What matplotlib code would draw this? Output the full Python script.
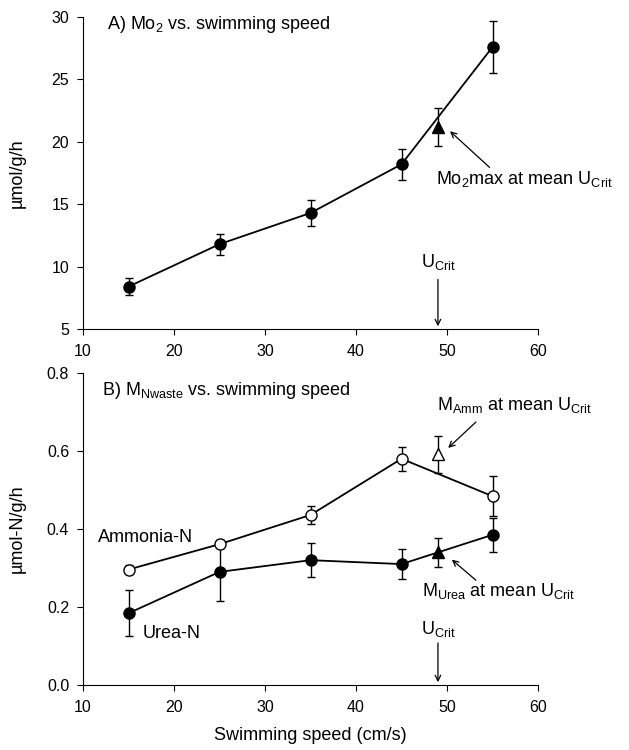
import numpy as np
import matplotlib
matplotlib.use('Agg')
import matplotlib.pyplot as plt

plt.rcParams['font.family'] = ['Liberation Sans', 'DejaVu Sans']
plt.rcParams['mathtext.fontset'] = 'custom'
plt.rcParams['mathtext.rm'] = 'Liberation Sans'
plt.rcParams['mathtext.it'] = 'Liberation Sans:italic'
plt.rcParams['mathtext.bf'] = 'Liberation Sans:bold'

# data
speed = [15, 25, 35, 45, 55]
mo2 = [8.4, 11.8, 14.3, 18.2, 27.6]
mo2_err = [0.7, 0.85, 1.05, 1.25, 2.1]
mo2max_x = [49]
mo2max = [21.2]
mo2max_err = [1.5]

amm = [0.296, 0.361, 0.436, 0.580, 0.484]
amm_err = [0.012, 0.010, 0.022, 0.031, 0.052]
urea = [0.184, 0.290, 0.320, 0.310, 0.385]
urea_err = [0.059, 0.074, 0.044, 0.039, 0.044]
ucrit_x = [49]
amm_ucrit = [0.591]
amm_ucrit_err = [0.048]
urea_ucrit = [0.340]
urea_ucrit_err = [0.037]

xticks = [10, 20, 30, 40, 50, 60]

FS = 13

fig = plt.figure(figsize=(6.29, 7.5), dpi=100)
ax1 = fig.add_axes([0.132, 0.5613, 0.7234, 0.416])
ax2 = fig.add_axes([0.132, 0.0867, 0.7234, 0.416])

ebkw = dict(color='black', ecolor='black', elinewidth=1.0, capsize=3, capthick=1.0,
	markersize=8, markeredgecolor='black', markeredgewidth=1.0)
arr = dict(arrowstyle='->', color='black', lw=0.9)

#
ax1.errorbar(speed, mo2, yerr=mo2_err, fmt='-o', lw=1.3, markerfacecolor='black', **ebkw)
ax1.errorbar(mo2max_x, mo2max, yerr=mo2max_err, fmt='^', markerfacecolor='black', **ebkw)
ax1.set_xlim(10, 60)
ax1.set_ylim(5, 30)
ax1.set_yticks([5, 10, 15, 20, 25, 30])
ax1.set_ylabel('µmol/g/h', fontsize=FS)
ax1.text(12.6, 29.4, r'A) Mo$_2$ vs. swimming speed', fontsize=FS, ha='left', va='center')
ax1.text(48.8, 17.0, r'Mo$_2$max at mean U$_{\mathrm{Crit}}$', fontsize=FS, ha='left', va='center')
ax1.annotate('', xy=(50.1, 21.0), xytext=(54.9, 17.8), arrowprops=arr)
ax1.text(49, 10.4, r'U$_{\mathrm{Crit}}$', fontsize=FS, ha='center', va='center')
ax1.annotate('', xy=(49, 5.0), xytext=(49, 9.2), arrowprops=arr)

#
ax2.errorbar(speed, amm, yerr=amm_err, fmt='-o', lw=1.3, markerfacecolor='white', zorder=3, **ebkw)
ax2.errorbar(speed, urea, yerr=urea_err, fmt='-o', lw=1.3, markerfacecolor='black', zorder=3, **ebkw)
ax2.errorbar(ucrit_x, amm_ucrit, yerr=amm_ucrit_err, fmt='^', markerfacecolor='white', zorder=4, **ebkw)
ax2.errorbar(ucrit_x, urea_ucrit, yerr=urea_ucrit_err, fmt='^', markerfacecolor='black', zorder=4, **ebkw)
ax2.set_xlim(10, 60)
ax2.set_ylim(0, 0.8)
ax2.set_yticks([0.0, 0.2, 0.4, 0.6, 0.8])
ax2.set_yticklabels(['0.0', '0.2', '0.4', '0.6', '0.8'])
ax2.set_ylabel('µmol-N/g/h', fontsize=FS)
ax2.set_xlabel('Swimming speed (cm/s)', fontsize=FS)
ax2.xaxis.set_label_coords(0.5, -0.135)
ax2.text(12.1, 0.756, r'B) M$_{\mathrm{Nwaste}}$ vs. swimming speed', fontsize=FS, ha='left', va='center')
ax2.text(11.6, 0.378, 'Ammonia-N', fontsize=FS, ha='left', va='center')
ax2.text(16.5, 0.132, 'Urea-N', fontsize=FS, ha='left', va='center')
ax2.text(48.9, 0.718, r'M$_{\mathrm{Amm}}$ at mean U$_{\mathrm{Crit}}$', fontsize=FS, ha='left', va='center')
ax2.annotate('', xy=(49.9, 0.603), xytext=(53.4, 0.679), arrowprops=arr)
ax2.text(47.2, 0.241, r'M$_{\mathrm{Urea}}$ at mean U$_{\mathrm{Crit}}$', fontsize=FS, ha='left', va='center')
ax2.annotate('', xy=(50.3, 0.326), xytext=(53.4, 0.264), arrowprops=arr)
ax2.text(49, 0.143, r'U$_{\mathrm{Crit}}$', fontsize=FS, ha='center', va='center')
ax2.annotate('', xy=(49, 0.0), xytext=(49, 0.115), arrowprops=arr)

for ax in (ax1, ax2):
	ax.set_xticks(xticks)
	ax.spines['top'].set_visible(False)
	ax.spines['right'].set_visible(False)
	ax.tick_params(direction='out', length=4, width=0.8, labelsize=11.5)
	ax.tick_params(axis='x', pad=7)
	ax.tick_params(axis='y', pad=6)
	ax.yaxis.set_label_coords(-0.125, 0.5)
	for sp in ('left', 'bottom'):
		ax.spines[sp].set_linewidth(0.8)

fig.savefig('out.png', dpi=100)
